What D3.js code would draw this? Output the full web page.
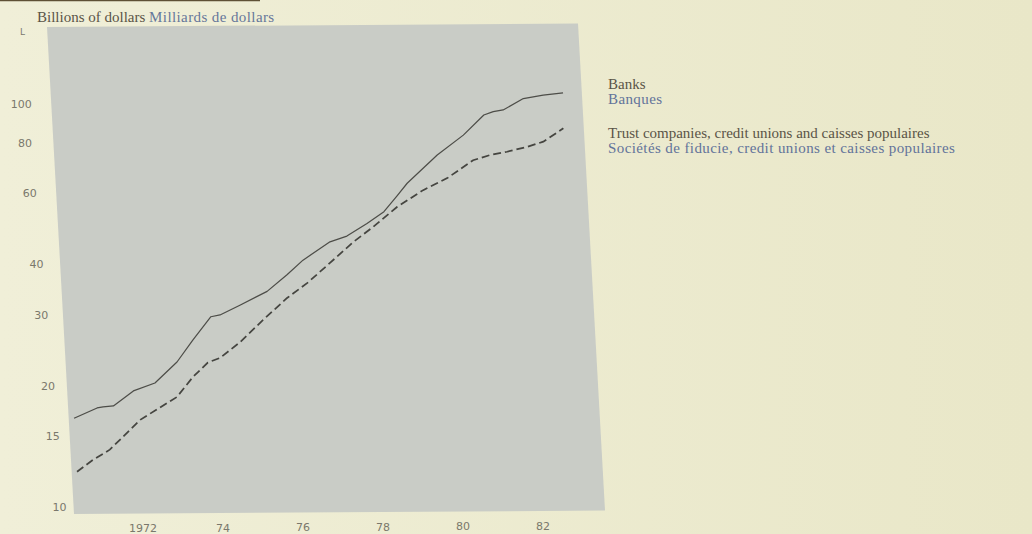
<!DOCTYPE html>
<html>
<head>
<meta charset="UTF-8">
<title>Banks / Banques</title>
<script src="https://cdn.jsdelivr.net/npm/d3@7"></script>
<style>
  html, body { margin: 0; padding: 0; background: #ebe9cf; }
  svg { display: block; }
</style>
</head>
<body>
<svg width="1032" height="534"></svg>
<script>
// data, billions of dollars (log scale)
var bankYears  = [1970.43, 1971.02, 1971.17, 1971.43, 1971.95, 1972.50, 1973.08, 1973.51, 1973.99, 1974.22,
                  1974.73, 1975.43, 1975.95, 1976.37, 1977.07, 1977.50, 1978.02, 1978.46, 1978.81, 1979.08,
                  1979.87, 1980.55, 1981.09, 1981.33, 1981.58, 1982.10, 1982.60, 1983.10];
var bankValues = [16.9, 17.9, 18.0, 18.1, 19.7, 20.6, 23.2, 26.3, 30.0, 30.3,
                  32.0, 34.6, 38.0, 41.3, 45.8, 47.3, 50.8, 54.3, 59.4, 63.8,
                  74.9, 83.8, 93.9, 95.7, 96.6, 103.0, 105.0, 106.2];

var trustYears  = [1970.43, 1970.84, 1971.28, 1972.08, 1972.59, 1973.03, 1973.46, 1973.85, 1974.16, 1974.68,
                   1975.29, 1975.92, 1976.44, 1977.04, 1977.65, 1978.17, 1978.80, 1979.47, 1980.09, 1980.76,
                   1981.19, 1981.62, 1982.13, 1982.54, 1983.06];
var trustValues = [12.45, 13.3, 14.1, 16.7, 17.9, 19.0, 21.3, 23.1, 23.7, 25.9,
                   29.4, 33.3, 36.2, 40.6, 45.7, 49.8, 55.8, 61.3, 65.6, 72.6,
                   74.7, 76.1, 78.2, 80.5, 86.8];

var yearTicks  = [1972, 1974, 1976, 1978, 1980, 1982];
var yearLabels = ["1972", "74", "76", "78", "80", "82"];
var valueTicks = [10, 15, 20, 30, 40, 60, 80, 100];

var legendEn = ["Banks", "Trust companies, credit unions and caisses populaires"];
var legendFr = ["Banques", "Sociétés de fiducie, credit unions et caisses populaires"];

var svg = d3.select("svg");

// paper
var defs = svg.append("defs");
var grad = defs.append("linearGradient").attr("id", "paper");
grad.append("stop").attr("offset", "0%").attr("stop-color", "#f0efd8");
grad.append("stop").attr("offset", "100%").attr("stop-color", "#e9e7c8");
svg.append("rect").attr("width", 1032).attr("height", 534).attr("fill", "url(#paper)");
svg.append("line").attr("x1", 0).attr("x2", 260).attr("y1", 0.5).attr("y2", 0.5)
  .attr("stroke", "#5e5035").attr("stroke-width", 1.5);

// plot frame (the printed page is photographed slightly askew)
var W = 531, H = 487;
var ox = 47, oy = 27, skx = 27, sky = -3.5;
function toPage(x, y) {
  return [ox + x + y * skx / H, oy + x * sky / W + y];
}

var x = d3.scaleLinear().domain([1972, 1982]).range([0.1284 * W, 0.8817 * W]);
var y = d3.scaleLog().domain([10, 100]).range([0.992 * H, 0.164 * H]);

var g = svg.append("g")
  .attr("transform", "matrix(1," + (sky / W) + "," + (skx / H) + ",1," + ox + "," + oy + ")");

g.append("rect").attr("width", W).attr("height", H).attr("fill", "#c9ccc6");

var line = d3.line()
  .x(function(d) { return x(d[0]); })
  .y(function(d) { return y(d[1]); });

g.append("path")
  .datum(d3.zip(bankYears, bankValues))
  .attr("d", line)
  .attr("fill", "none")
  .attr("stroke", "#4d4d48")
  .attr("stroke-width", 1.2)
  .attr("stroke-linejoin", "round");

g.append("path")
  .datum(d3.zip(trustYears, trustValues))
  .attr("d", line)
  .attr("fill", "none")
  .attr("stroke", "#454540")
  .attr("stroke-width", 1.7)
  .attr("stroke-dasharray", "8,4");

// axis labels
var tickFont = "'DejaVu Sans', sans-serif";
svg.append("g").selectAll("text")
  .data(valueTicks)
  .enter().append("text")
  .attr("x", function(d) { var p = toPage(0, y(d)); return 21 + (p[1] - 104) * 0.095; })
  .attr("y", function(d) { return toPage(0, y(d))[1] + 1; })
  .attr("text-anchor", "middle")
  .attr("font-family", tickFont)
  .attr("font-size", 11)
  .attr("fill", "#7a786c")
  .text(function(d) { return d; });

svg.append("g").selectAll("text")
  .data(yearTicks)
  .enter().append("text")
  .attr("x", function(d) { return toPage(x(d), H * 1.03)[0]; })
  .attr("y", function(d) { return toPage(x(d), H * 1.03)[1] + 4; })
  .attr("text-anchor", "middle")
  .attr("font-family", tickFont)
  .attr("font-size", 11)
  .attr("fill", "#7a786c")
  .text(function(d, i) { return yearLabels[i]; });

svg.append("text").attr("x", 20).attr("y", 35)
  .attr("font-family", tickFont).attr("font-size", 9).attr("fill", "#7a786c").text("L");

// title
var serif = "'Liberation Serif', 'Times New Roman', serif";
var title = svg.append("text").attr("x", 37).attr("y", 22)
  .attr("font-family", serif).attr("font-size", 15);
title.append("tspan").attr("fill", "#5a5447").text("Billions of dollars ");
title.append("tspan").attr("fill", "#66779a").attr("letter-spacing", 0.4).text("Milliards de dollars");

// series labels
var legendY = [89, 138];
legendEn.forEach(function(t, i) {
  svg.append("text").attr("x", 608).attr("y", legendY[i])
    .attr("font-family", serif).attr("font-size", 15).attr("fill", "#5a5447").text(t);
  svg.append("text").attr("x", 608).attr("y", legendY[i] + 15)
    .attr("font-family", serif).attr("font-size", 15).attr("letter-spacing", 0.4)
    .attr("fill", "#62739a").text(legendFr[i]);
});
</script>
</body>
</html>
